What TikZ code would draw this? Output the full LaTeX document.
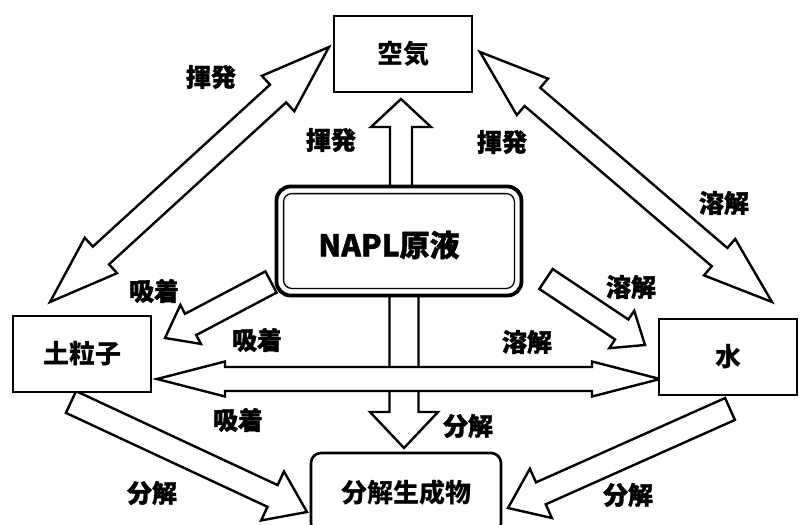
\documentclass[tikz,border=0pt]{standalone}
\usepackage{fontspec}
\newfontfamily\jp{Noto Sans CJK JP}
\newfontfamily\jph{Noto Sans CJK JP}[BoldFeatures={FakeBold=1.2}]
\usetikzlibrary{calc}
\tikzset{
  blk/.style={draw=black, fill=white, line width=2.4pt, line join=miter, miter limit=10},
  boxn/.style={draw=black, fill=white, line width=2.6pt, inner sep=0pt,
    font=\jp\bfseries\fontsize{26}{26}\selectfont},
  lbl/.style={font=\jph\bfseries\fontsize{25}{25}\selectfont, inner sep=0pt},
}
% single block arrow: tail, tip, shaft half-width, head half-width, head length
\newcommand{\sarrow}[5]{%
  \coordinate (sah) at ($(#2)!#5!(#1)$);
  \draw[blk] ($(#1)!#3!90:(#2)$) -- ($(sah)!#3!90:(#2)$) -- ($(sah)!#4!90:(#2)$) -- (#2)
    -- ($(sah)!#4!-90:(#2)$) -- ($(sah)!#3!-90:(#2)$) -- ($(#1)!#3!-90:(#2)$) -- cycle;
}
% double block arrow
\newcommand{\darrow}[5]{%
  \coordinate (dah1) at ($(#1)!#5!(#2)$);
  \coordinate (dah2) at ($(#2)!#5!(#1)$);
  \draw[blk] (#1) -- ($(dah1)!#4!90:(#2)$) -- ($(dah1)!#3!90:(#2)$) -- ($(dah2)!#3!90:(#2)$)
    -- ($(dah2)!#4!90:(#2)$) -- (#2) -- ($(dah2)!#4!-90:(#2)$) -- ($(dah2)!#3!-90:(#2)$)
    -- ($(dah1)!#3!-90:(#2)$) -- ($(dah1)!#4!-90:(#2)$) -- cycle;
}
\begin{document}
\begin{tikzpicture}[x=1pt, y=-1pt]
\useasboundingbox (0,0) rectangle (802,524);
\clip (0,0) rectangle (802,524);
\fill[white] (0,0) rectangle (802,524);

% arrow end points
\coordinate (upA) at (401,190);  \coordinate (upB) at (401,99);
\coordinate (dnA) at (404,290);  \coordinate (dnB) at (404,448);
\coordinate (hA) at (157,379);   \coordinate (hB) at (660,379);
\coordinate (lA) at (50,302);    \coordinate (lB) at (329,47);
\coordinate (rA) at (480,52);    \coordinate (rB) at (772,302);
\coordinate (nsA) at (271,282);  \coordinate (nsB) at (165,338);
\coordinate (nwA) at (546,279);  \coordinate (nwB) at (645,345);
\coordinate (spA) at (71,402);   \coordinate (spB) at (307,512);
\coordinate (wpA) at (730,409);  \coordinate (wpB) at (508,508);

% arrows
\sarrow{dnA}{dnB}{14.5pt}{34pt}{36pt}
\darrow{hA}{hB}{12pt}{17.5pt}{68pt}
\sarrow{upA}{upB}{11pt}{30pt}{28pt}
\darrow{lA}{lB}{12pt}{24pt}{69pt}
\darrow{rA}{rB}{12pt}{24pt}{69pt}
\sarrow{nsA}{nsB}{12pt}{22pt}{29pt}
\sarrow{nwA}{nwB}{12pt}{22.5pt}{28pt}
\sarrow{spA}{spB}{12pt}{27pt}{38pt}
\sarrow{wpA}{wpB}{12pt}{27pt}{36pt}

% boxes
\node[boxn, minimum width=138pt, minimum height=76pt] (air) at (403,54) {空気};
\node[boxn, minimum width=138pt, minimum height=76pt] (soil) at (82,354) {土粒子};
\node[boxn, minimum width=138pt, minimum height=76pt] (water) at (728,357) {水};
\node[boxn, rounded corners=10pt, minimum width=190pt, minimum height=80pt] (prod) at (406,493) {分解生成物};
\node[draw=black, fill=white, line width=3.8pt, rounded corners=14pt, minimum width=245pt,
  minimum height=109pt] (napl) at (399,241) {};
\draw[line width=1.3pt, rounded corners=8pt] ([shift={(9,9)}]napl.north west) rectangle ([shift={(-9,-9)}]napl.south east);
\node[font=\jph\bfseries\fontsize{30}{30}\selectfont, inner sep=0pt] (napltext) at (389,245) {NAPL原液};

% labels
\node[lbl] (l1) at (211,77) {揮発};
\node[lbl] (l2) at (331,140) {揮発};
\node[lbl] (l3) at (502,142) {揮発};
\node[lbl] (l4) at (724,203) {溶解};
\node[lbl] (l5) at (154,291) {吸着};
\node[lbl] (l6) at (257,340) {吸着};
\node[lbl] (l7) at (527,342) {溶解};
\node[lbl] (l8) at (631,287) {溶解};
\node[lbl] (l9) at (238,420) {吸着};
\node[lbl] (l10) at (468,426) {分解};
\node[lbl] (l11) at (152,493) {分解};
\node[lbl] (l12) at (628,495) {分解};
\end{tikzpicture}
\end{document}
